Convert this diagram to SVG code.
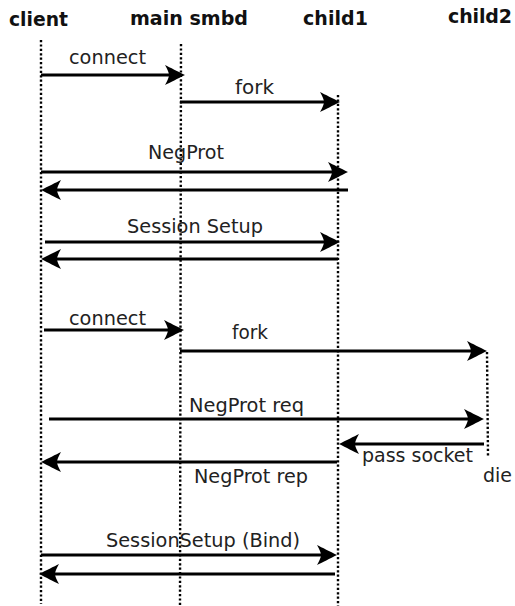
<svg xmlns="http://www.w3.org/2000/svg" width="515" height="606" viewBox="0 0 515 606">
<style>
.title{font-family:"DejaVu Sans",sans-serif;font-weight:bold;font-size:19px;fill:#111}
.lbl{font-family:"DejaVu Sans",sans-serif;font-size:19px;fill:#222}
.life{stroke:#000;stroke-width:2.4;stroke-dasharray:2.2,2.2;fill:none}
.msg{stroke:#000;stroke-width:3;fill:none;marker-end:url(#ah)}
</style>
<defs>
<marker id="ah" markerUnits="userSpaceOnUse" viewBox="-12 -12 26 24" markerWidth="26" markerHeight="24" refX="0" refY="0" orient="auto">
<path d="M12,0 C5,-3.5 -3,-7.5 -8,-10 Q-4,-3 -4,0 Q-4,3 -8,10 C-3,7.5 5,3.5 12,0 Z" fill="#000"/>
</marker>
</defs>
<g id="client">
<text class="title" x="9" y="26" textLength="59" lengthAdjust="spacingAndGlyphs">client</text>
<line class="life" x1="41" y1="40" x2="41" y2="604"/>
</g>
<g id="main-smbd">
<text class="title" x="130" y="25" textLength="118" lengthAdjust="spacingAndGlyphs">main smbd</text>
<line class="life" x1="181" y1="44" x2="180" y2="606"/>
</g>
<g id="child1">
<text class="title" x="303" y="25" textLength="65" lengthAdjust="spacing">child1</text>
<line class="life" x1="338" y1="95" x2="338" y2="606"/>
</g>
<g id="child2">
<text class="title" x="448" y="23" textLength="64" lengthAdjust="spacing">child2</text>
<line class="life" x1="487" y1="352" x2="488" y2="456"/>
<text class="lbl" x="483" y="482" textLength="29" lengthAdjust="spacingAndGlyphs">die</text>
</g>
<g id="connectors">
<line class="msg" x1="41" y1="75" x2="173" y2="75"/>
<text class="lbl" x="69" y="64" textLength="77" lengthAdjust="spacingAndGlyphs">connect</text>
<line class="msg" x1="180" y1="102" x2="328" y2="102"/>
<text class="lbl" x="235" y="94" textLength="39" lengthAdjust="spacingAndGlyphs">fork</text>
<line class="msg" x1="41" y1="172" x2="336" y2="172"/>
<text class="lbl" x="148" y="159" textLength="76" lengthAdjust="spacingAndGlyphs">NegProt</text>
<line class="msg" x1="348" y1="190" x2="53" y2="190"/>
<line class="msg" x1="45" y1="242" x2="328" y2="242"/>
<text class="lbl" x="127" y="233" textLength="136" lengthAdjust="spacingAndGlyphs">Session Setup</text>
<line class="msg" x1="338" y1="259" x2="53" y2="259"/>
<line class="msg" x1="44" y1="330" x2="172" y2="330"/>
<text class="lbl" x="69" y="325" textLength="77" lengthAdjust="spacingAndGlyphs">connect</text>
<line class="msg" x1="180" y1="351" x2="475" y2="351"/>
<text class="lbl" x="232" y="339" textLength="36" lengthAdjust="spacingAndGlyphs">fork</text>
<line class="msg" x1="49" y1="419" x2="472" y2="419"/>
<text class="lbl" x="189" y="412" textLength="115" lengthAdjust="spacingAndGlyphs">NegProt req</text>
<line class="msg" x1="484" y1="444" x2="351" y2="444"/>
<text class="lbl" x="362" y="462" textLength="111" lengthAdjust="spacingAndGlyphs">pass socket</text>
<line class="msg" x1="337" y1="462" x2="53" y2="462"/>
<text class="lbl" x="194" y="483" textLength="114" lengthAdjust="spacingAndGlyphs">NegProt rep</text>
<line class="msg" x1="41" y1="555" x2="325" y2="555"/>
<text class="lbl" x="106" y="547" textLength="194" lengthAdjust="spacingAndGlyphs">SessionSetup (Bind)</text>
<line class="msg" x1="335" y1="574" x2="51" y2="574"/>
</g>
</svg>
